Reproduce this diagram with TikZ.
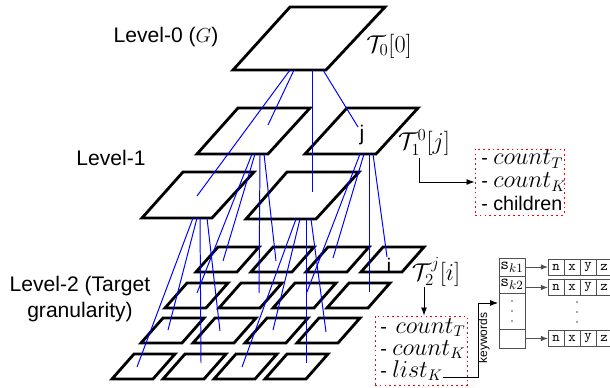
\documentclass[tikz,border=0pt]{standalone}
\usepackage[no-math]{fontspec}
\setmainfont{Liberation Sans}
\usetikzlibrary{positioning,arrows.meta}
\definecolor{LinkBlue}{RGB}{0,0,255}
\definecolor{NoteRed}{RGB}{255,0,0}
\definecolor{CellGray}{RGB}{80,80,80}
\newcommand{\mvar}[1]{{\fontsize{16}{18}\selectfont$#1$}}
\tikzset{
  tile/.style={draw=black,line width=2pt},
  link/.style={draw=LinkBlue,line width=0.7pt},
  lvl/.style={font=\fontsize{15}{19}\selectfont,align=center,inner sep=0pt},
  tlab/.style={font=\fontsize{17}{20}\selectfont,inner sep=0pt},
  note/.style={draw=NoteRed,line width=0.7pt,dash pattern=on 1.2pt off 2.2pt,inner sep=0pt},
  item/.style={anchor=base west,inner sep=0pt,font=\fontsize{14}{17}\selectfont},
  arr/.style={draw=black,line width=0.6pt,-{Latex[length=2mm,width=1.5mm]}},
}
\tikzset{cell/.style={draw=CellGray,line width=0.7pt,inner sep=0pt,outer sep=0pt,minimum width=4mm,minimum height=4mm,font=\ttfamily\fontsize{10}{10}\selectfont}, key/.style={draw=CellGray,line width=0.7pt,inner sep=0pt,outer sep=0pt,minimum width=6.5mm,font=\fontsize{13}{13}\selectfont}, tarr/.style={draw=CellGray,line width=0.7pt,-{Latex[length=1.8mm,width=1.4mm]}}, dt/.style={fill=CellGray}}

\begin{document}
\begin{tikzpicture}[x=0.25mm,y=-0.25mm]
\useasboundingbox (0,0) rectangle (610,388);
\clip (0,0) rectangle (610,388);
% level 0
\draw[tile] (290,7) -- (385,7) -- (326,70) -- (233,70) -- cycle;
% level 1
\draw[tile] (238,108) -- (310,108) -- (268,154) -- (197,154) -- cycle;
\draw[tile] (347,108) -- (418,108) -- (376,154) -- (305,154) -- cycle;
\draw[tile] (183,172) -- (254,172) -- (212,218) -- (142,218) -- cycle;
\draw[tile] (287,172) -- (359,172) -- (316,219) -- (246,219) -- cycle;
% level 2
\foreach \y/\x/\d in {247/218/55,283/187/54,318/163/52,354/134/51}
  \foreach \c in {0,...,3}
    \draw[tile] (\x+\c*\d,\y) -- ++(41,0) -- ++(-22,25) -- ++(-41,0) -- cycle;
% tree points
\coordinate (g1) at (290,70);
\coordinate (g2) at (294,70);
\coordinate (g3) at (312,70);
\coordinate (g4) at (323,70);
\coordinate (ll) at (197,196);
\coordinate (ul) at (268,125);
\coordinate (lr) at (312,192);
\coordinate (j) at (358,127);
\coordinate (ul1) at (252,154);
\coordinate (ul2) at (255,154);
\coordinate (ul3) at (260,154);
\coordinate (ul4) at (264,154);
\coordinate (ur1) at (360,154);
\coordinate (ur2) at (364,154);
\coordinate (ur3) at (369,154);
\coordinate (ur4) at (373,154);
\coordinate (ll1) at (193,218);
\coordinate (ll2) at (197,218);
\coordinate (ll3) at (200,218);
\coordinate (ll4) at (207,218);
\coordinate (lr1) at (296,219);
\coordinate (lr2) at (300,219);
\coordinate (lr3) at (306,219);
\coordinate (lr4) at (311,219);
\coordinate (p11) at (223,261);
\coordinate (p12) at (276,261);
\coordinate (p13) at (333,258);
\coordinate (p14) at (387,257);
\coordinate (p21) at (197,293);
\coordinate (p22) at (259,293);
\coordinate (p23) at (307,292);
\coordinate (p24) at (369,292);
\coordinate (p31) at (168,330);
\coordinate (p32) at (220,331);
\coordinate (p33) at (273,330);
\coordinate (p34) at (326,332);
\coordinate (p41) at (137,367);
\coordinate (p42) at (201,363);
\coordinate (p43) at (242,367);
\coordinate (p44) at (306,363);
\draw[link] (g1)--(ll);
\draw[link] (g2)--(ul);
\draw[link] (g3)--(lr);
\draw[link] (g4)--(j);
\draw[link] (ul1)--(p21);
\draw[link] (ul2)--(p11);
\draw[link] (ul3)--(p22);
\draw[link] (ul4)--(p12);
\draw[link] (ur1)--(p23);
\draw[link] (ur2)--(p13);
\draw[link] (ur3)--(p24);
\draw[link] (ur4)--(p14);
\draw[link] (ll1)--(p41);
\draw[link] (ll2)--(p31);
\draw[link] (ll3)--(p42);
\draw[link] (ll4)--(p32);
\draw[link] (lr1)--(p43);
\draw[link] (lr2)--(p33);
\draw[link] (lr3)--(p44);
\draw[link] (lr4)--(p34);
% labels
\node[lvl] (lv0) at (166,37) {Level-0 ($G$)};
\node[lvl] (lv1) at (111,158) {Level-1};
\node[lvl] (lv2) at (80,299) {Level-2 (Target\\granularity)};
\node[tlab] (t0) at (389,46) {$\mathcal{T}_0[0]$};
\node[tlab] (t1) at (424,143) {$\mathcal{T}^0_1[j]$};
\node[tlab] (t2) at (436,272) {$\mathcal{T}^j_2[i]$};
\node[lvl] (jl) at (362,135) {j};
\node[lvl] (il) at (389,266) {i};
% counters of T_1^0[j]
\node[note,minimum width=22.25mm,minimum height=16.5mm] (box1) at (519.5,182) {};
\node[item] (c1t) at (481,165) {- \mvar{count_T}};
\node[item] (c1k) at (481,188) {- \mvar{count_K}};
\node[item] (c1c) at (481,211) {- children};
\coordinate (a1) at (419,158);
\draw[arr] (a1) |- (box1.west);
% counters of T_2^j[i]
\node[note,minimum width=23mm,minimum height=17.25mm] (box2) at (421,350.5) {};
\node[item] (c2t) at (380,333) {- \,\mvar{count_T}};
\node[item] (c2k) at (380,355) {- \mvar{count_K}};
\node[item] (c2l) at (380,377) {- \mvar{list_K}};
\coordinate (a2) at (424,287);
\draw[arr] (a2) -- (a2 |- box2.north);
% keyword table
\node[key,minimum height=4.5mm] (sk1) at (512,267) {$\mathtt{s}_{k1}$};
\node[key,minimum height=4.25mm] (sk2) at (512,284.5) {$\mathtt{s}_{k2}$};
\node[key,minimum height=9mm] (skd) at (512,311) {};
\node[key,minimum height=4.75mm] (ske) at (512,338.5) {};
\fill[dt] (512,301) circle (0.6pt) (512,311) circle (0.6pt) (512,321) circle (0.6pt);
\coordinate (kw) at (478,377);
\coordinate (kt) at (498,303);
\draw[arr] (c2l.base east) -- (kw) |- (kt);
\node[rotate=90,inner sep=0pt,font=\fontsize{8.5}{10}\selectfont] (kwl) at (484,338) {keywords};
% posting lists
\node[cell] (a1n) at (556,267) {n};
\node[cell,right=0pt of a1n] (a1x) {x};
\node[cell,right=0pt of a1x] (a1y) {y};
\node[cell,right=0pt of a1y] (a1z) {z};
\node[cell] (a2n) at (556,287.5) {n};
\node[cell,right=0pt of a2n] (a2x) {x};
\node[cell,right=0pt of a2x] (a2y) {y};
\node[cell,right=0pt of a2y] (a2z) {z};
\node[cell] (a3n) at (556,338.5) {n};
\node[cell,right=0pt of a3n] (a3x) {x};
\node[cell,right=0pt of a3x] (a3y) {y};
\node[cell,right=0pt of a3y] (a3z) {z};
\fill[dt] (577,302) circle (0.6pt) (577,312) circle (0.6pt) (577,322) circle (0.6pt);
\draw[tarr] (sk1.east) -- (a1n.west);
\draw[tarr] (a2n.west -| sk2.east) -- (a2n.west);
\draw[tarr] (ske.east) -- (a3n.west);
\end{tikzpicture}
\end{document}
